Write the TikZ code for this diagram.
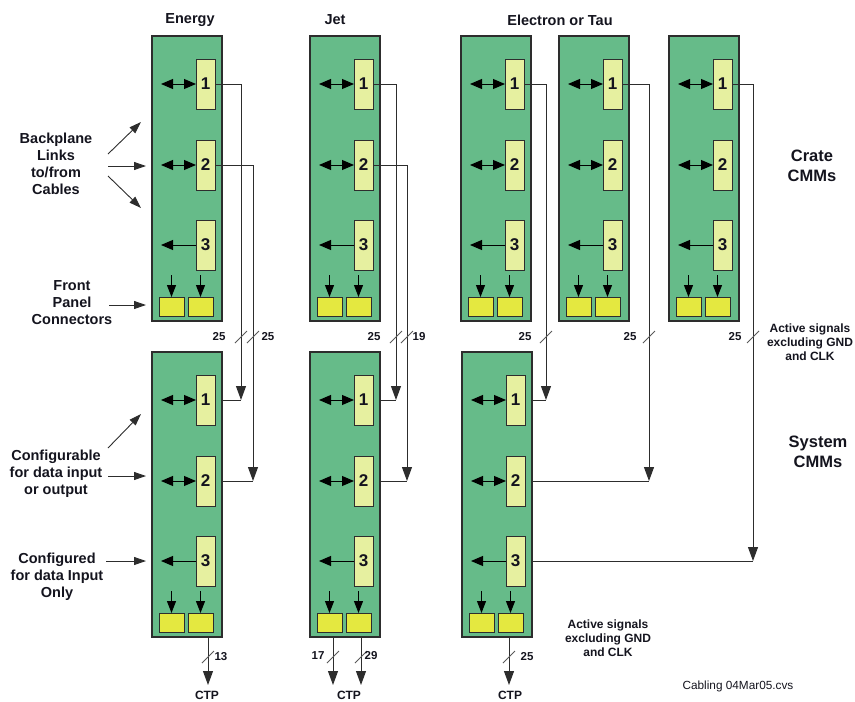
\documentclass[tikz,border=0pt]{standalone}
\usepackage{fontspec}
\setmainfont{Liberation Sans}
\usetikzlibrary{arrows.meta}
\definecolor{boardgreen}{RGB}{102,187,137}
\definecolor{modyellow}{RGB}{230,240,160}
\definecolor{conyellow}{RGB}{228,232,64}
\definecolor{edgegray}{RGB}{45,45,45}
\definecolor{txt}{RGB}{20,20,30}
\tikzset{
  board/.style={draw=edgegray,fill=boardgreen,line width=1.2pt,minimum width=70pt,minimum height=285pt,anchor=north west,inner sep=0pt,outer sep=0pt},
  module/.style={draw=edgegray,fill=modyellow,line width=1pt,minimum width=19pt,minimum height=50pt,anchor=north west,inner sep=0pt,outer sep=0pt,text=txt,font=\bfseries\fontsize{17}{17}\selectfont},
  connbox/.style={draw=edgegray,fill=conyellow,line width=1pt,minimum width=25pt,minimum height=19pt,anchor=north west,inner sep=0pt,outer sep=0pt},
  tipbig/.style={-{Triangle[length=14pt,width=10pt]}},
  dbl/.style={line width=1pt,{Triangle[length=12pt,width=10pt]}-{Triangle[length=12pt,width=10pt]}},
  wire/.style={draw=edgegray,line width=1pt},
  slash/.style={draw=gray!70!black,line width=0.8pt},
  numlab/.style={text=txt,font=\bfseries\fontsize{11.5}{12}\selectfont,inner sep=0pt},
  lbl/.style={text=txt,align=center,font=\bfseries\fontsize{14.5}{17}\selectfont,inner sep=0pt},
  big/.style={text=txt,align=center,font=\bfseries\fontsize{16.5}{19.5}\selectfont,inner sep=0pt},
  small/.style={text=txt,align=center,font=\bfseries\fontsize{12}{14}\selectfont,inner sep=0pt},
  ctplbl/.style={text=txt,font=\bfseries\fontsize{12}{12}\selectfont,inner sep=0pt},
  ptr/.style={draw=edgegray,line width=0.9pt,-{Triangle[length=12pt,width=8pt]}},
  cmm/.pic={
    \node[board] (-b) at (0,0) {};
    \node[module] (-m1) at (44,23) {1};
    \node[module] (-m2) at (44,104) {2};
    \node[module] (-m3) at (44,184) {3};
    \node[connbox] (-c1) at (7,261) {};
    \node[connbox] (-c2) at (36,261) {};
    \coordinate (-a1) at (9,48);
    \coordinate (-a2) at (9,129);
    \coordinate (-a3) at (9,209);
    \coordinate (-d1) at (19.5,239);
    \coordinate (-d2) at (48.5,239);
    \draw[dbl] (-a1) -- (-m1.west);
    \draw[dbl] (-a2) -- (-m2.west);
    \draw[line width=1pt,-{Triangle[length=12pt,width=10pt]}] (-m3.west) -- (-a3);
    \draw[line width=1pt,-{Triangle[length=12pt,width=9pt]}] (-d1) -- (-c1.north);
    \draw[line width=1pt,-{Triangle[length=12pt,width=9pt]}] (-d2) -- (-c2.north);
  }
}
\begin{document}
\begin{tikzpicture}[x=1pt,y=-1pt]
\useasboundingbox (0,0) rectangle (855,702);
% headers
\node[lbl] (hE) at (190,20) {Energy};
\node[lbl] (hJ) at (335,20) {Jet};
\node[lbl] (hX) at (560,20) {Electron or Tau};
% boards
\pic (ET) at (152,36) {cmm};
\pic (JT) at (310,36) {cmm};
\pic (XT1) at (461,36) {cmm};
\pic (XT2) at (559,36) {cmm};
\pic (XT3) at (669,36) {cmm};
\pic (EB) at (152,352) {cmm};
\pic (JB) at (310,352) {cmm};
\pic (XB) at (462,352) {cmm};
% vertical wire positions
\coordinate (vE1) at (241,0);
\coordinate (vE2) at (253,0);
\coordinate (vJ1) at (396,0);
\coordinate (vJ2) at (407,0);
\coordinate (vX1) at (546,0);
\coordinate (vX2) at (649,0);
\coordinate (vX3) at (753,0);
% crate to system wires
\draw[wire,tipbig] (ET-m1.east) -| (vE1 |- EB-m1.east);
\draw[wire] (EB-b.east |- EB-m1.east) -- (vE1 |- EB-m1.east);
\draw[wire,tipbig] (ET-m2.east) -| (vE2 |- EB-m2.east);
\draw[wire] (EB-b.east |- EB-m2.east) -- (vE2 |- EB-m2.east);
\draw[wire,tipbig] (JT-m1.east) -| (vJ1 |- JB-m1.east);
\draw[wire] (JB-b.east |- JB-m1.east) -- (vJ1 |- JB-m1.east);
\draw[wire,tipbig] (JT-m2.east) -| (vJ2 |- JB-m2.east);
\draw[wire] (JB-b.east |- JB-m2.east) -- (vJ2 |- JB-m2.east);
\draw[wire,tipbig] (XT1-m1.east) -| (vX1 |- XB-m1.east);
\draw[wire] (XB-b.east |- XB-m1.east) -- (vX1 |- XB-m1.east);
\draw[wire,tipbig] (XT2-m1.east) -| (vX2 |- XB-m2.east);
\draw[wire] (XB-b.east |- XB-m2.east) -- (vX2 |- XB-m2.east);
\draw[wire,tipbig] (XT3-m1.east) -| (vX3 |- XB-m3.east);
\draw[wire] (XB-b.east |- XB-m3.east) -- (vX3 |- XB-m3.east);
% slashes between rows
\foreach \s in {vE1,vE2,vJ1,vJ2,vX1,vX2,vX3}{
  \draw[slash] (\s |- 0,337) ++(-6,6) -- ++(12,-12);
}
\node[numlab] (nE1) at (219,337) {25};
\node[numlab] (nE2) at (268,337) {25};
\node[numlab] (nJ1) at (374,337) {25};
\node[numlab] (nJ2) at (419,337) {19};
\node[numlab] (nX1) at (525,337) {25};
\node[numlab] (nX2) at (630,337) {25};
\node[numlab] (nX3) at (735,337) {25};
\node[small] (actR) at (810,342) {Active signals\\excluding GND\\and CLK};
% outputs to CTP
\node[ctplbl] (ctpE) at (207,695) {CTP};
\node[ctplbl] (ctpJ) at (349,695) {CTP};
\node[ctplbl] (ctpX) at (510,695) {CTP};
\coordinate (oE) at (208,0);
\coordinate (oJ1) at (333,0);
\coordinate (oJ2) at (361,0);
\coordinate (oX) at (509,0);
\draw[wire,tipbig] (oE |- EB-b.south) -- (oE |- 0,685);
\draw[wire,tipbig] (oJ1 |- JB-b.south) -- (oJ1 |- 0,685);
\draw[wire,tipbig] (oJ2 |- JB-b.south) -- (oJ2 |- 0,685);
\draw[wire,tipbig] (oX |- XB-b.south) -- (oX |- 0,685);
\foreach \s in {oE,oJ1,oJ2,oX}{
  \draw[slash] (\s |- 0,657) ++(-6,6) -- ++(12,-12);
}
\node[numlab] (nO1) at (221,657) {13};
\node[numlab] (nO2) at (318,656) {17};
\node[numlab] (nO3) at (371,656) {29};
\node[numlab] (nO4) at (527,657) {25};
\node[small] (actB) at (608,638) {Active signals\\excluding GND\\and CLK};
\node[text=txt,font=\fontsize{11.8}{12}\selectfont,inner sep=0pt] (cab) at (738,686) {Cabling 04Mar05.cvs};
% right labels
\node[big] (crate) at (812,166) {Crate\\CMMs};
\node[big] (sys) at (818,452) {System\\CMMs};
% left labels
\node[lbl] (bp) at (56,164) {Backplane\\Links\\to/from\\Cables};
\node[lbl] (fp) at (72,303) {Front\\Panel\\Connectors};
\node[lbl] (cf) at (56,474) {Configurable\\for data input\\or output};
\node[lbl] (cd) at (57,577) {Configured\\for data Input\\Only};
\coordinate (p1s) at (108,154); \coordinate (p1e) at (141,122);
\coordinate (p2s) at (108,166); \coordinate (p2e) at (146,166);
\coordinate (p3s) at (108,176); \coordinate (p3e) at (141,208);
\coordinate (p4s) at (109,305); \coordinate (p4e) at (146,305);
\coordinate (p5s) at (108,448); \coordinate (p5e) at (141,414);
\coordinate (p6s) at (108,476); \coordinate (p6e) at (146,476);
\coordinate (p7s) at (106,561); \coordinate (p7e) at (146,561);
\draw[ptr] (p1s) -- (p1e);
\draw[ptr] (p2s) -- (p2e);
\draw[ptr] (p3s) -- (p3e);
\draw[ptr] (p4s) -- (p4e);
\draw[ptr] (p5s) -- (p5e);
\draw[ptr] (p6s) -- (p6e);
\draw[ptr] (p7s) -- (p7e);
\end{tikzpicture}
\end{document}
